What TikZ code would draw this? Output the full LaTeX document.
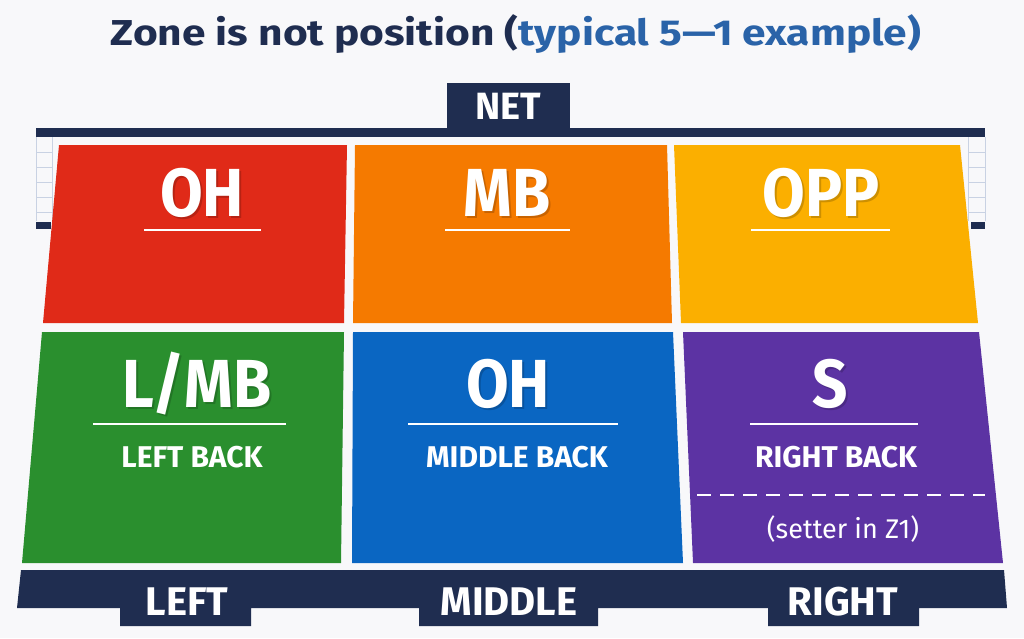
\documentclass[tikz,border=0pt]{standalone}
\usepackage{fontspec}
\setmainfont{Fira Sans}
\definecolor{navy}{HTML}{1F2D50}
\definecolor{ttlblue}{HTML}{2A63A8}
\definecolor{bg}{HTML}{F8F8FA}
\definecolor{cred}{HTML}{E02A18}
\definecolor{corange}{HTML}{F57A00}
\definecolor{cyellow}{HTML}{FBAF00}
\definecolor{cgreen}{HTML}{2A8F2E}
\definecolor{cblue}{HTML}{0A66C2}
\definecolor{cpurple}{HTML}{5C33A3}
\definecolor{mesh}{HTML}{C9D2E3}
\newcommand{\bigtxt}[1]{\scalebox{0.91}[1]{#1}}
\tikzset{
  big/.style={text=white,anchor=base,inner sep=0pt,font=\fontsize{68}{68}\selectfont\bfseries},
  bigshadow/.style={text=black,opacity=0.18,anchor=base,inner sep=0pt,font=\fontsize{68}{68}\selectfont\bfseries},
  sub/.style={text=white,anchor=base,inner sep=0pt,font=\fontsize{30}{30}\selectfont\bfseries},
  lbl/.style={text=white,anchor=base,inner sep=0pt,font=\fontsize{40}{40}\selectfont\bfseries},
  uline/.style={white,line width=2.2pt},
  meshline/.style={mesh,line width=1pt},
}
\begin{document}
\begin{tikzpicture}[x=1pt,y=-1pt]
\fill[bg] (0,0) rectangle (1024,638);
\useasboundingbox (0,0) rectangle (1024,638);
% title
\node[anchor=base,inner sep=0pt,font=\fontsize{36}{36}\selectfont\bfseries] (title) at (516,45)
  {\scalebox{1.18}[1]{\textcolor{navy}{Zone is not position (}\textcolor{ttlblue}{typical 5—1 example)}}};
% net
\fill[navy] (447,83) rectangle (570,129);
\node[lbl,font=\fontsize{38}{38}\selectfont\bfseries] (net) at (508.5,119) {NET};
\fill[navy] (36,128) rectangle (985,137);
% side meshes
\foreach \xa/\xb in {36/52,968/985}{
  \draw[meshline] (\xa,137) -- (\xa,221) (\xb,137) -- (\xb,221);
  \foreach \yy in {152,167,182,197,212}{\draw[meshline] (\xa,\yy) -- (\xb,\yy);}
}
\fill[navy] (36,222) rectangle (51,229);
\fill[navy] (971,222) rectangle (985,229);
% cells
\fill[cred] (59,145) -- (347,145) -- (344,323) -- (43,323) -- cycle;
\fill[corange] (355,145) -- (667,145) -- (672,323) -- (353,323) -- cycle;
\fill[cyellow] (674,145) -- (960,145) -- (978,323) -- (681,323) -- cycle;
\fill[cgreen] (42,332) -- (344,332) -- (341,563) -- (22,563) -- cycle;
\fill[cblue] (353,332) -- (673,332) -- (683,563) -- (352,563) -- cycle;
\fill[cpurple] (683,332) -- (979,332) -- (1003,563) -- (693,563) -- cycle;
% text shadows
\foreach \tx/\xx/\yy in {OH/202/216,MB/507/216,OPP/821/216,L{/}MB/197/407,OH/508/407,S/830/407}{
  \node[bigshadow] at (\xx+2,\yy+2) {\bigtxt{\tx}};
}
% top row text
\node[big] (oh1) at (202,216) {\bigtxt{OH}};
\node[big] (mb1) at (507,216) {\bigtxt{MB}};
\node[big] (opp) at (821,216) {\bigtxt{OPP}};
\coordinate (u1a) at (144,230); \coordinate (u1b) at (261,230);
\coordinate (u2a) at (445,230); \coordinate (u2b) at (570,230);
\coordinate (u3a) at (751,230); \coordinate (u3b) at (890,230);
\draw[uline] (u1a) -- (u1b);
\draw[uline] (u2a) -- (u2b);
\draw[uline] (u3a) -- (u3b);
% bottom row text
\node[big] (lmb) at (197,407) {\bigtxt{L/MB}};
\node[big] (oh2) at (508,407) {\bigtxt{OH}};
\node[big] (s) at (830,407) {\bigtxt{S}};
\coordinate (u4a) at (93,424); \coordinate (u4b) at (286,424);
\coordinate (u5a) at (408,424); \coordinate (u5b) at (618,424);
\coordinate (u6a) at (750,424); \coordinate (u6b) at (918,424);
\draw[uline] (u4a) -- (u4b);
\draw[uline] (u5a) -- (u5b);
\draw[uline] (u6a) -- (u6b);
\node[sub] (lb) at (192,467) {LEFT BACK};
\node[sub] (mbk) at (517,467) {MIDDLE BACK};
\node[sub] (rb) at (836,467) {RIGHT BACK};
\coordinate (da) at (697,495); \coordinate (db) at (985,495);
\draw[white,line width=2.2pt,dash pattern=on 14pt off 9pt] (da) -- (db);
\node[text=white,anchor=base,inner sep=0pt,font=\fontsize{27}{27}\selectfont] (setter) at (843,538) {(setter in Z1)};
% bottom band
\fill[navy] (21,570) -- (1004,570) -- (1007,608) -- (919,608) -- (919,626) -- (768,626) -- (768,608)
  -- (598,608) -- (598,626) -- (419,626) -- (419,608) -- (251,608) -- (251,626) -- (120,626) -- (120,608)
  -- (17,608) -- cycle;
\node[lbl] (left) at (187,615) {LEFT};
\node[lbl] (middle) at (509,615) {MIDDLE};
\node[lbl] (right) at (843,615) {RIGHT};
\end{tikzpicture}
\end{document}
